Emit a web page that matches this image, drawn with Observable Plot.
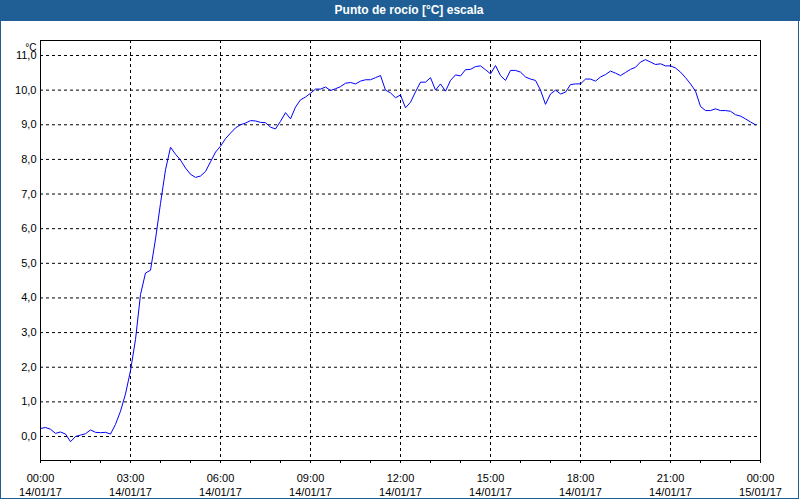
<!DOCTYPE html>
<html>
<head>
<meta charset="utf-8">
<script src="https://cdn.jsdelivr.net/npm/d3@7"></script>
<script src="https://cdn.jsdelivr.net/npm/@observablehq/plot@0.6"></script>
<style>
  html, body { margin: 0; padding: 0; background: #ffffff; }
  #wrap { position: relative; width: 800px; height: 500px; overflow: hidden; font-family: "Liberation Sans", Arial, sans-serif; background: #ffffff; }
  #title { position: absolute; left: 0; top: 0; width: 800px; height: 21px; background: #1f5f96; color: #ffffff;
           font-weight: bold; font-size: 12px; line-height: 21px; text-align: center; padding-left: 18px; box-sizing: border-box; }
  #chart { position: absolute; left: 0; top: 21px; }
  #border { position: absolute; left: 0; top: 0; width: 799px; height: 499px; border: 1px solid #1f5f96; border-top: none;
            box-sizing: border-box; pointer-events: none; }
</style>
</head>
<body>
<div id="wrap">
  <div id="title">Punto de rocío [°C] escala</div>
  <div id="chart"></div>
  <div id="border"></div>
</div>
<script>
// ---- data ----
const startTime = "2017-01-14T00:00:00Z";
const endTime = "2017-01-15T00:00:00Z";
const stepMinutes = 10;
const dewPoint = [
  0.23, 0.26, 0.21, 0.09, 0.13, 0.07, -0.15, 0.00, 0.04, 0.08, 0.19, 0.12,
  0.11, 0.12, 0.07, 0.35, 0.73, 1.23, 1.90, 2.80, 4.10, 4.72, 4.80, 5.70,
  6.73, 7.70, 8.35, 8.15, 7.98, 7.75, 7.57, 7.48, 7.52, 7.65, 7.93, 8.21,
  8.38, 8.60, 8.76, 8.91, 9.00, 9.05, 9.12, 9.11, 9.07, 9.06, 8.93, 8.88,
  9.10, 9.35, 9.17, 9.51, 9.72, 9.80, 9.91, 10.03, 10.03, 10.09, 9.99, 10.04,
  10.10, 10.20, 10.22, 10.18, 10.26, 10.30, 10.30, 10.36, 10.42, 10.00, 9.92, 9.78,
  9.86, 9.49, 9.65, 9.95, 10.23, 10.23, 10.36, 10.00, 10.18, 9.97, 10.28, 10.44,
  10.41, 10.59, 10.60, 10.68, 10.70, 10.59, 10.47, 10.71, 10.42, 10.28, 10.57, 10.57,
  10.52, 10.38, 10.32, 10.28, 10.00, 9.59, 9.89, 10.00, 9.89, 9.94, 10.16, 10.18,
  10.18, 10.32, 10.32, 10.26, 10.38, 10.45, 10.55, 10.49, 10.42, 10.51, 10.60, 10.66,
  10.81, 10.88, 10.81, 10.74, 10.76, 10.70, 10.70, 10.64, 10.52, 10.36, 10.18, 9.97,
  9.53, 9.41, 9.41, 9.46, 9.41, 9.41, 9.39, 9.29, 9.25, 9.17, 9.08, 9.00
];
const yTicks = [0, 1, 2, 3, 4, 5, 6, 7, 8, 9, 10, 11];
const yTickLabels = ["0,0", "1,0", "2,0", "3,0", "4,0", "5,0", "6,0", "7,0", "8,0", "9,0", "10,0", "11,0"];
const yUnit = "°C";
const xLabelTimes = ["2017-01-14T00:00:00Z", "2017-01-14T03:00:00Z", "2017-01-14T06:00:00Z", "2017-01-14T09:00:00Z",
                     "2017-01-14T12:00:00Z", "2017-01-14T15:00:00Z", "2017-01-14T18:00:00Z", "2017-01-14T21:00:00Z",
                     "2017-01-15T00:00:00Z"];
const xTimeLabels = ["00:00", "03:00", "06:00", "09:00", "12:00", "15:00", "18:00", "21:00", "00:00"];
const xDateLabels = ["14/01/17", "14/01/17", "14/01/17", "14/01/17", "14/01/17", "14/01/17", "14/01/17", "14/01/17", "15/01/17"];

// ---- build ----
const t0 = new Date(startTime), t1 = new Date(endTime);
const rows = dewPoint.map((v, i) => ({ time: new Date(+t0 + i * stepMinutes * 60000), value: v }));
const labelDates = xLabelTimes.map(s => new Date(s));
const labelMap = new Map(labelDates.map((d, i) => [+d, xTimeLabels[i] + "\n" + xDateLabels[i]]));
const gridDates = labelDates.slice(1, -1);
const hourTicks = d3.utcHour.range(t0, new Date(+t1 + 1));
const yLabelMap = new Map(yTicks.map((v, i) => [v, yTickLabels[i]]));

const chart = Plot.plot({
  width: 800,
  height: 479,
  marginLeft: 40,
  marginRight: 40,
  marginTop: 19,
  marginBottom: 40,
  style: { fontFamily: "'Liberation Sans', Arial, sans-serif", fontSize: "11px", color: "#000", background: "transparent", overflow: "visible" },
  x: { type: "utc", domain: [t0, t1], label: null },
  y: { domain: [-0.693, 11.433], label: null },
  marks: [
    Plot.ruleY(yTicks, { stroke: "#000", strokeDasharray: "3,3", strokeOpacity: 1 }),
    Plot.ruleX(gridDates, { stroke: "#000", strokeDasharray: "3,3", strokeOpacity: 1 }),
    Plot.line(rows, { x: "time", y: "value", stroke: "#0000ff", strokeWidth: 1 }),
    Plot.frame({ stroke: "#000", strokeOpacity: 1 }),
    Plot.axisX(hourTicks, { tickSize: 3, tickFormat: () => "", strokeOpacity: 1, stroke: "#000" }),
    Plot.axisX(labelDates, { tickSize: 0, tickPadding: 11, tickFormat: d => labelMap.get(+d), lineHeight: 14.5 / 11, fontSize: 11, fill: "#000" }),
    Plot.axisY(yTicks, { tickSize: 0, tickPadding: 4, tickFormat: d => yLabelMap.get(d), fontSize: 11, fill: "#000", label: null }),
    Plot.text([yUnit], { text: d => d, frameAnchor: "top-left", dx: -4, dy: 3, textAnchor: "end", fontSize: 10, fill: "#000" })
  ]
});
document.getElementById("chart").appendChild(chart);
</script>
</body>
</html>
